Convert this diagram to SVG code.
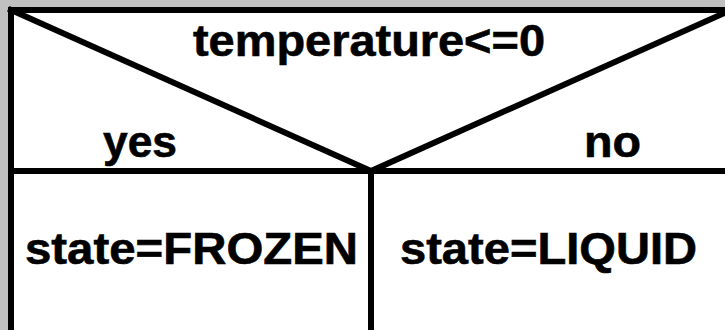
<svg xmlns="http://www.w3.org/2000/svg" width="725" height="330" viewBox="0 0 725 330">
<style>
.ln{stroke:#000;stroke-width:6;fill:none;stroke-linecap:square}
.t{font-family:"Liberation Sans",Arial,sans-serif;font-weight:bold;font-size:44px;fill:#000;stroke:#000;stroke-width:0.6}
</style>
<rect x="0" y="0" width="725" height="330" fill="#c0c0c0"/>
<rect x="11" y="10" width="740" height="340" fill="#fff"/>
<g id="connectors">
<line class="ln" x1="11" y1="10" x2="760" y2="10"/>
<line class="ln" x1="11" y1="10" x2="11" y2="340"/>
<line class="ln" x1="11" y1="10" x2="371" y2="171"/>
<line class="ln" x1="371" y1="171" x2="731" y2="10"/>
<line class="ln" x1="11" y1="171" x2="760" y2="171"/>
<line class="ln" x1="371" y1="171" x2="371" y2="340"/>
</g>
<g id="condition"><text class="t" x="193" y="56" textLength="352" lengthAdjust="spacingAndGlyphs">temperature&lt;=0</text></g>
<g id="yes"><text class="t" x="103" y="157" textLength="74" lengthAdjust="spacingAndGlyphs">yes</text></g>
<g id="no"><text class="t" x="584" y="157" textLength="57" lengthAdjust="spacingAndGlyphs">no</text></g>
<g id="frozen"><text class="t" x="25" y="264" textLength="333" lengthAdjust="spacingAndGlyphs">state=FROZEN</text></g>
<g id="liquid"><text class="t" x="400" y="264" textLength="297" lengthAdjust="spacingAndGlyphs">state=LIQUID</text></g>
</svg>
